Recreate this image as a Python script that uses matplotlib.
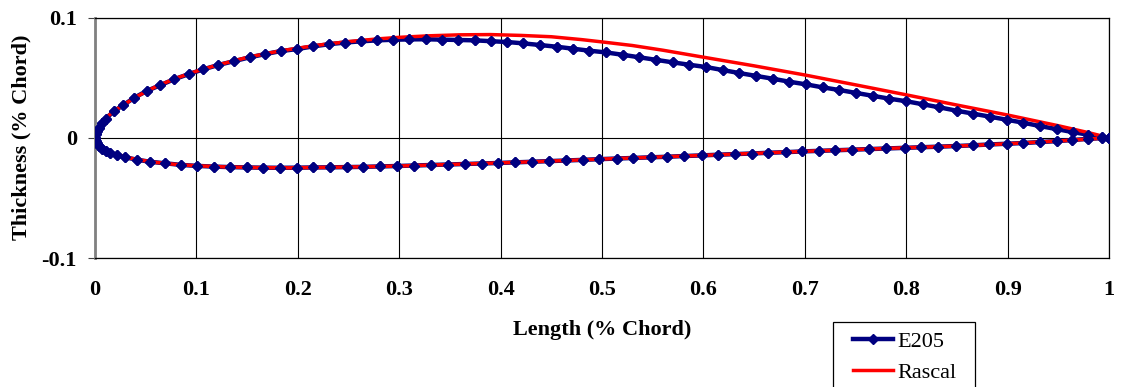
import matplotlib
matplotlib.use("Agg")
import matplotlib.pyplot as plt
from matplotlib.patches import Rectangle

# ---- data ----
e205_upper_x = [0.0, 0.0005, 0.0015, 0.0035, 0.0065, 0.0105, 0.019, 0.0279, 0.0388, 0.051,
                0.0641, 0.0779, 0.0927, 0.1068, 0.1216, 0.1374, 0.1526, 0.168, 0.1834, 0.1996,
                0.2153, 0.231, 0.2469, 0.2626, 0.2785, 0.2943, 0.31, 0.326, 0.342, 0.3583,
                0.3744, 0.3905, 0.4066, 0.4224, 0.4389, 0.4553, 0.4711, 0.4875, 0.5036, 0.5204,
                0.5368, 0.5533, 0.5697, 0.5861, 0.6026, 0.619, 0.6354, 0.6519, 0.6683, 0.6847,
                0.7012, 0.7176, 0.734, 0.7505, 0.767, 0.7833, 0.7998, 0.8163, 0.8326, 0.8498,
                0.8662, 0.8826, 0.8991, 0.9155, 0.932, 0.9484, 0.9642, 0.9796, 0.993, 1.0]
e205_upper_y = [0.0, 0.0030, 0.0055, 0.0085, 0.0120, 0.0160, 0.0222, 0.0272, 0.0333, 0.0389,
                0.0436, 0.0486, 0.0530, 0.0569, 0.0605, 0.0638, 0.0669, 0.0696, 0.0721, 0.0738,
                0.0760, 0.0778, 0.0792, 0.0802, 0.0810, 0.0815, 0.0818, 0.0819, 0.0816, 0.0813,
                0.0810, 0.0803, 0.0796, 0.0785, 0.0771, 0.0757, 0.0741, 0.0724, 0.0710, 0.0690,
                0.0669, 0.0648, 0.0627, 0.0607, 0.0588, 0.0563, 0.0538, 0.0514, 0.0491, 0.0466,
                0.0444, 0.0419, 0.0397, 0.0374, 0.0349, 0.0325, 0.0304, 0.0278, 0.0253, 0.0225,
                0.0200, 0.0175, 0.0150, 0.0125, 0.0097, 0.0072, 0.0047, 0.0025, 0.0007, 0.0]

e205_lower_x = [0.0, 0.0005, 0.0015, 0.0035, 0.0065, 0.0105, 0.0150, 0.0214, 0.0296, 0.041,
                0.0545, 0.0695, 0.0850, 0.1008, 0.1170, 0.1331, 0.1496, 0.166, 0.1824, 0.1989,
                0.2153, 0.2318, 0.2482, 0.2646, 0.2811, 0.2981, 0.3146, 0.331, 0.3478, 0.3649,
                0.3813, 0.3977, 0.4142, 0.4313, 0.448, 0.4645, 0.481, 0.4973, 0.5145, 0.5309,
                0.548, 0.5644, 0.5809, 0.5983, 0.6147, 0.6312, 0.6476, 0.664, 0.681, 0.697,
                0.714, 0.730, 0.747, 0.763, 0.780, 0.7988, 0.815, 0.8316, 0.849, 0.8656,
                0.882, 0.899, 0.9155, 0.932, 0.9484, 0.964, 0.9796, 0.993, 1.0]
e205_lower_y = [0.0, -0.0025, -0.0045, -0.0068, -0.0090, -0.0110, -0.0125, -0.0141, -0.0162, -0.0182,
                -0.0200, -0.0213, -0.0226, -0.0234, -0.0240, -0.0244, -0.0247, -0.0249, -0.0250, -0.0249,
                -0.0247, -0.0246, -0.0244, -0.0242, -0.0239, -0.0235, -0.0231, -0.0227, -0.0223, -0.0219,
                -0.0215, -0.0210, -0.0205, -0.0200, -0.0195, -0.0189, -0.0184, -0.0178, -0.0173, -0.0168,
                -0.0163, -0.0158, -0.0152, -0.0147, -0.0141, -0.0136, -0.0131, -0.0125, -0.0120, -0.0114,
                -0.0109, -0.0104, -0.0099, -0.0094, -0.0089, -0.0084, -0.0080, -0.0075, -0.0069, -0.0063,
                -0.0056, -0.0050, -0.0044, -0.0036, -0.0028, -0.0019, -0.0009, -0.0003, 0.0]

rascal_upper_x = [0.0, 0.002, 0.01, 0.02, 0.04, 0.06, 0.08, 0.10, 0.12, 0.15, 0.18, 0.20, 0.22,
                  0.25, 0.28, 0.30, 0.33, 0.36, 0.39, 0.42, 0.45, 0.48, 0.50, 0.53, 0.56, 0.60,
                  0.65, 0.70, 0.75, 0.80, 0.85, 0.90, 0.95, 0.98, 1.0]
rascal_upper_y = [0.0, 0.0060, 0.0162, 0.0228, 0.0338, 0.0425, 0.0495, 0.0553, 0.0603, 0.0668,
                  0.0718, 0.0745, 0.0770, 0.0800, 0.0823, 0.0835, 0.0848, 0.0856, 0.0858, 0.0851,
                  0.0840, 0.0816, 0.0797, 0.0767, 0.0728, 0.0670, 0.0598, 0.0522, 0.0440, 0.0357,
                  0.0272, 0.0189, 0.0100, 0.0042, 0.0]
rascal_lower_x = [0.0, 0.002, 0.01, 0.02, 0.04, 0.06, 0.08, 0.10, 0.13, 0.16, 0.19, 0.22, 0.26,
                  0.30, 0.35, 0.40, 0.45, 0.50, 0.55, 0.60, 0.65, 0.70, 0.75, 0.80, 0.85, 0.90,
                  0.95, 1.0]
rascal_lower_y = [0.0, -0.0040, -0.0108, -0.0138, -0.0180, -0.0205, -0.0222, -0.0233, -0.0243,
                  -0.0248, -0.0250, -0.0247, -0.0242, -0.0235, -0.0222, -0.0209, -0.0194, -0.0177,
                  -0.0162, -0.0146, -0.0130, -0.0113, -0.0098, -0.0083, -0.0069, -0.0050, -0.0027, 0.0]

x_ticks = [0, 0.1, 0.2, 0.3, 0.4, 0.5, 0.6, 0.7, 0.8, 0.9, 1]
x_tick_labels = ["0", "0.1", "0.2", "0.3", "0.4", "0.5", "0.6", "0.7", "0.8", "0.9", "1"]
y_ticks = [-0.1, 0, 0.1]
y_tick_labels = ["-0.1", "0", "0.1"]

# ---- figure ----
plt.rcParams['font.family'] = ['Liberation Serif', 'DejaVu Serif']
fig = plt.figure(figsize=(11.25, 3.87), dpi=100)
ax = fig.add_axes([95/1125, 1-258/387, 1014/1125, 240.5/387])

navy = "#000080"
e205_x = e205_upper_x[::-1] + e205_lower_x
e205_y = e205_upper_y[::-1] + e205_lower_y
rascal_x = rascal_upper_x[::-1] + rascal_lower_x
rascal_y = rascal_upper_y[::-1] + rascal_lower_y

ax.plot(e205_x, e205_y, color=navy, lw=3.2, marker='D', ms=5.4, mfc=navy, mec=navy,
        zorder=3, label="E205")
ax.plot(rascal_x, rascal_y, color="#FF0000", lw=2.5, zorder=4, label="Rascal")
ax.plot(e205_x, e205_y, ls='none', marker='D', ms=5.4, mfc=navy, mec=navy, zorder=5)

ax.set_xlim(0, 1)
ax.set_ylim(-0.1, 0.1)
ax.set_xticks(x_ticks)
ax.set_xticklabels(x_tick_labels, fontsize=16, fontweight='bold')
ax.set_yticks(y_ticks)
ax.set_yticklabels(y_tick_labels, fontsize=16, fontweight='bold')
ax.tick_params(axis='x', length=0, pad=16)
ax.tick_params(axis='y', length=5, width=0.8, color='#404040', pad=8, direction='out')
ax.grid(True, color='black', lw=0.8, zorder=1)

for side in ['top', 'right', 'bottom']:
    ax.spines[side].set_color('black')
    ax.spines[side].set_linewidth(0.9)
ax.spines['left'].set_color('#808080')
ax.spines['left'].set_linewidth(2.0)

ax.set_xlabel("Length (% Chord)", fontsize=16, fontweight='bold')
ax.xaxis.label.set_va('center')
ax.xaxis.set_label_coords(0.5, -(330-258)/240.5)
ax.set_ylabel("Thickness (% Chord)", fontsize=16, fontweight='bold')
ax.yaxis.label.set_va('center')
ax.yaxis.set_label_coords((21-95)/1014, 0.5)

# legend box (cut off by the image bottom as in the reference)
fig.patches.append(Rectangle((832.7/1125, -0.05), 142.3/1125, 1-321.7/387+0.05,
                             transform=fig.transFigure, fill=False, edgecolor='black',
                             lw=0.9, zorder=10))
handles, labels = ax.get_legend_handles_labels()
fig.legend(handles[:2], labels[:2], loc='upper left', bbox_to_anchor=(853/1125, 1-331/387),
           frameon=False, borderpad=0, borderaxespad=0, handlelength=1.8,
           handletextpad=0.2, labelspacing=0.5, fontsize=16)

fig.savefig("out.png", dpi=100)
